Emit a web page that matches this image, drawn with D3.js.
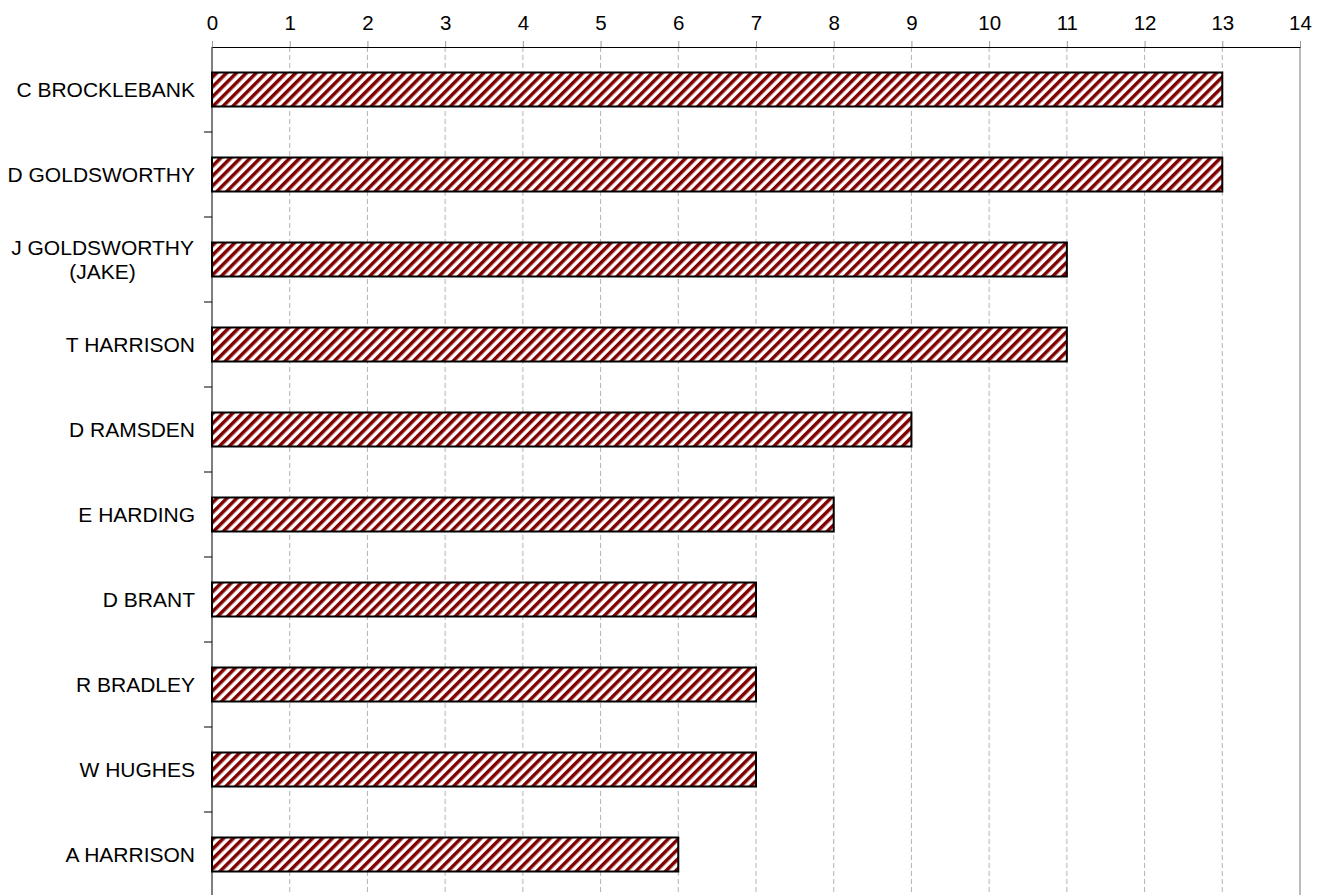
<!DOCTYPE html>
<html>
<head>
<meta charset="utf-8">
<script src="https://cdn.jsdelivr.net/npm/d3@7"></script>
<style>
  body { margin: 0; background: #fff; }
  svg { display: block; font-family: "Liberation Sans", Arial, sans-serif; }
</style>
</head>
<body>
<div id="chart"></div>
<script>
// players and their counts, top to bottom
const players = ["C BROCKLEBANK", "D GOLDSWORTHY", "J GOLDSWORTHY\n(JAKE)", "T HARRISON",
  "D RAMSDEN", "E HARDING", "D BRANT", "R BRADLEY", "W HUGHES", "A HARRISON"];
const counts = [13, 13, 11, 11, 9, 8, 7, 7, 7, 6];
const xTicks = d3.range(0, 15);

const width = 1322, height = 895;
const plotLeft = 212, plotRight = 1300, plotTop = 47, plotBottom = 897;

const svg = d3.select("#chart").append("svg")
    .attr("width", width)
    .attr("height", height);

// diagonal hatch
const defs = svg.append("defs");
const pat = defs.append("pattern")
    .attr("id", "hatch")
    .attr("patternUnits", "userSpaceOnUse")
    .attr("width", 7)
    .attr("height", 7)
    .attr("patternTransform", "rotate(45)");
pat.append("rect").attr("width", 7).attr("height", 7).attr("fill", "#fff");
pat.append("rect").attr("width", 3.5).attr("height", 7).attr("fill", "#800000");

const x = d3.scaleLinear().domain([0, 14]).range([plotLeft, plotRight]);
const y = d3.scaleBand().domain(players).range([plotTop, plotBottom])
    .paddingInner(0.6).paddingOuter(0.3);

// gridlines
svg.append("g").selectAll("line")
    .data(xTicks.filter(d => d > 0 && d < 14))
    .join("line")
    .attr("x1", d => x(d)).attr("x2", d => x(d))
    .attr("y1", plotTop).attr("y2", height)
    .attr("stroke", "#b4b4b4")
    .attr("stroke-dasharray", "5,3");

svg.append("line")
    .attr("x1", x(14)).attr("x2", x(14))
    .attr("y1", plotTop).attr("y2", height)
    .attr("stroke", "#777");

// top axis
const xAxis = svg.append("g")
    .attr("transform", `translate(0,${plotTop})`)
    .call(d3.axisTop(x).tickValues(xTicks).tickSize(6).tickPadding(11).tickSizeOuter(0));
xAxis.select(".domain").attr("stroke", "#000");
xAxis.selectAll(".tick line").attr("stroke", "#999");
xAxis.selectAll(".tick text")
    .attr("font-size", 20.5)
    .attr("font-family", "Liberation Sans, Arial, sans-serif")
    .attr("fill", "#000");

// bars
svg.append("g").selectAll("rect")
    .data(players)
    .join("rect")
    .attr("x", x(0))
    .attr("y", d => y(d))
    .attr("width", (d, i) => x(counts[i]) - x(0))
    .attr("height", y.bandwidth())
    .attr("fill", "url(#hatch)")
    .attr("stroke", "#000")
    .attr("stroke-width", 2);

// left axis line and boundary ticks
svg.append("line")
    .attr("x1", plotLeft).attr("x2", plotLeft)
    .attr("y1", plotTop).attr("y2", height)
    .attr("stroke", "#000");

const gap = (y.step() - y.bandwidth()) / 2;
svg.append("g").selectAll("line")
    .data(players.slice(0, -1))
    .join("line")
    .attr("x1", plotLeft - 8).attr("x2", plotLeft)
    .attr("y1", d => y(d) + y.bandwidth() + gap)
    .attr("y2", d => y(d) + y.bandwidth() + gap)
    .attr("stroke", "#000");

// category labels
const labels = svg.append("g")
    .attr("font-size", 21)
    .attr("fill", "#000");

players.forEach(name => {
  const lines = name.split("\n");
  const cy = y(name) + y.bandwidth() / 2;
  const t = labels.append("text");
  if (lines.length === 1) {
    t.attr("x", 195).attr("y", cy).attr("dy", "0.35em")
        .attr("text-anchor", "end").text(name);
  } else {
    const lh = 24;
    lines.forEach((ln, k) => {
      t.append("tspan").attr("y", cy + (k - (lines.length - 1) / 2) * lh)
          .attr("dy", "0.35em").text(ln);
    });
    const w = d3.max(t.selectAll("tspan").nodes(), n => n.getComputedTextLength());
    t.attr("text-anchor", "middle");
    t.selectAll("tspan").attr("x", 194 - w / 2);
  }
});
</script>
</body>
</html>
